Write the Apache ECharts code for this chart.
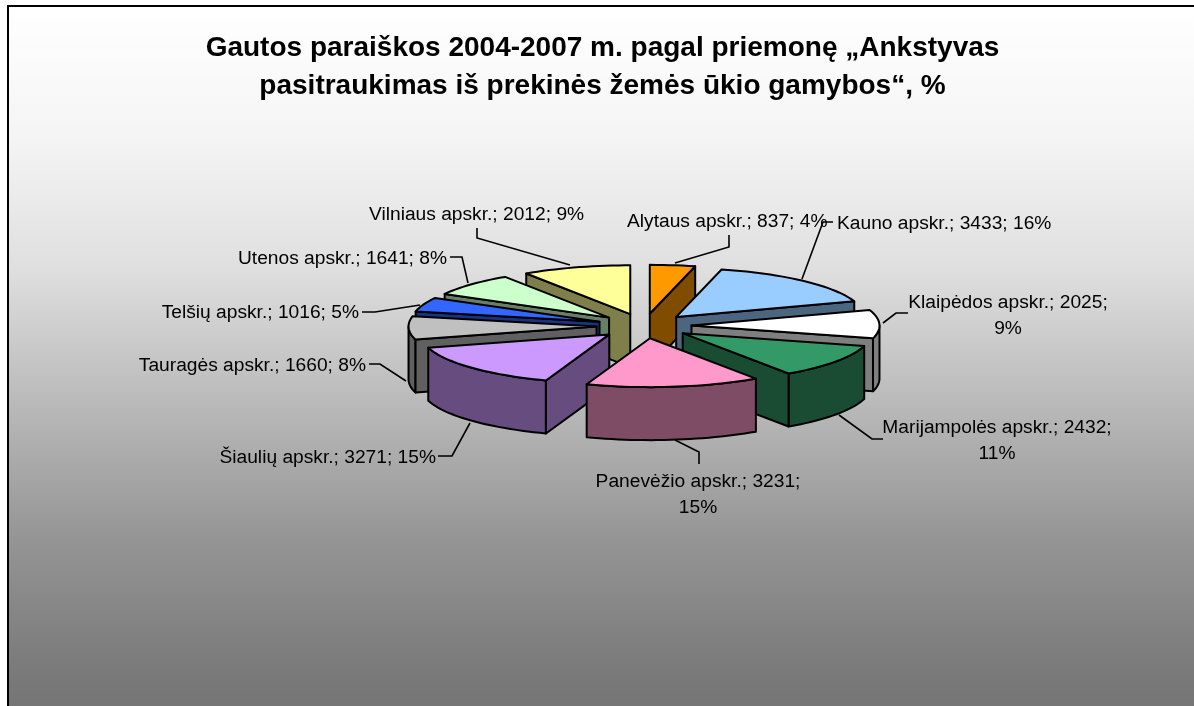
<!DOCTYPE html>
<html>
<head>
<meta charset="utf-8">
<title>Gautos paraiškos</title>
<style>
	html, body { margin: 0; padding: 0; background: #fff; }
	#main { width: 1194px; height: 706px; }
</style>
<script src="https://cdn.jsdelivr.net/npm/echarts@6/dist/echarts.min.js"></script>
</head>
<body>
<div id="main"></div>
<script>
	var titleText = 'Gautos paraiškos 2004-2007 m. pagal priemonę „Ankstyvas\npasitraukimas iš prekinės žemės ūkio gamybos“, %';
	var categories = ['Alytaus apskr.', 'Kauno apskr.', 'Klaipėdos apskr.', 'Marijampolės apskr.', 'Panevėžio apskr.', 'Šiaulių apskr.', 'Tauragės apskr.', 'Telšių apskr.', 'Utenos apskr.', 'Vilniaus apskr.'];
	var values = [837, 3433, 2025, 2432, 3231, 3271, 1660, 1016, 1641, 2012];
	var percents = [4, 16, 9, 11, 15, 15, 8, 5, 8, 9];
	var topColors = ['#ff9900', '#99ccff', '#ffffff', '#339966', '#ff99cc', '#cc99ff', '#c0c0c0', '#3366ff', '#ccffcc', '#ffff99'];
	var wallColors = ['#7f4c00', '#4c667f', '#7f7f7f', '#194c33', '#7f4c66', '#664c7f', '#606060', '#193380', '#667f66', '#7f7f4c'];

	// 3d pie shape, ECharts has no 3d pie without gl
	var cx = 644, cy = 326, radius = 188, squash = 0.26, depth = 53, explode = 47.5;

	// label place: [x, y, align], line break where the original wraps
	var labelPlaces = [
		[627, 222, 'left'], [837, 224, 'left'], [1008, 316, 'center'], [997, 441, 'center'], [698, 495, 'center'],
		[436, 458, 'right'], [366, 366, 'right'], [359, 313, 'right'], [447, 259, 'right'], [369, 215, 'left']
	];
	var labelBreaks = [false, false, true, true, true, false, false, false, false, false];
	var leaderLines = [
		[[729, 235], [729, 247], [675, 263]],
		[[833, 222], [823, 222], [802, 279]],
		[[908, 313], [896, 313], [883, 323]],
		[[883, 439], [872, 439], [839, 415]],
		[[699, 464], [699, 452], [675, 440]],
		[[438, 456], [452, 456], [470, 423]],
		[[369, 364], [380, 364], [406, 381]],
		[[362, 312], [375, 312], [420, 305]],
		[[450, 257], [462, 257], [468, 283]],
		[[477, 228], [477, 238], [570, 265]]
	];

	var total = values.reduce(function(a, b) { return a + b; }, 0);
	var startDeg = [];
	values.reduce(function(sum, v, i) {
		startDeg[i] = sum / total * 360;
		return sum + v;
	}, 0);

	function rad(deg) {
		return deg * Math.PI / 180;
	}

	// degrees run clockwise from 12 o'clock
	function project(apex, deg, r, drop) {
		return [apex[0] + r * Math.sin(rad(deg)), apex[1] - r * squash * Math.cos(rad(deg)) + drop];
	}

	function arcPoints(apex, a0, a1, drop) {
		var pts = [];
		for (var d = a0; d < a1; d += 2) {
			pts.push(project(apex, d, radius, drop));
		}
		pts.push(project(apex, a1, radius, drop));
		return pts;
	}

	function poly(points, fill) {
		return {
			type: 'polygon',
			shape: { points: points },
			style: { fill: fill, stroke: '#000', lineWidth: 2, lineJoin: 'round' }
		};
	}

	function cutWall(apex, deg, fill) {
		return poly([
			project(apex, deg, 0, 0), project(apex, deg, radius, 0),
			project(apex, deg, radius, depth), project(apex, deg, 0, depth)
		], fill);
	}

	function renderSlice(params, api) {
		var i = api.value(1);
		var a0 = startDeg[i];
		var a1 = a0 + api.value(0) / total * 360;
		var mid = (a0 + a1) / 2;
		var apex = [cx + explode * Math.sin(rad(mid)), cy - explode * squash * Math.cos(rad(mid))];
		var children = [];

		// outer side, only the part turned to the viewer
		var from = Math.max(a0, 90), to = Math.min(a1, 270);
		if (from < to) {
			children.push(poly(arcPoints(apex, from, to, 0).concat(arcPoints(apex, from, to, depth).reverse()), wallColors[i]));
		}
		// cut sides
		if (Math.sin(rad(a0)) < 0) {
			children.push(cutWall(apex, a0, wallColors[i]));
		}
		if (Math.sin(rad(a1)) > 0.001) {
			children.push(cutWall(apex, a1, wallColors[i]));
		}
		children.push(poly([apex].concat(arcPoints(apex, a0, a1, 0)), topColors[i]));

		return { type: 'group', children: children };
	}

	function labelText(i) {
		var tail = percents[i] + '%';
		return categories[i] + '; ' + values[i] + ';' + (labelBreaks[i] ? '\n' : ' ') + tail;
	}

	function renderLabel(params, api) {
		var i = api.value(1);
		var place = labelPlaces[i];
		return {
			type: 'group',
			children: [{
				type: 'polyline',
				shape: { points: leaderLines[i] },
				style: { fill: null, stroke: '#000', lineWidth: 1.6 }
			}, {
				type: 'text',
				x: place[0],
				y: place[1],
				style: {
					text: labelText(i),
					fill: '#000',
					font: '19.2px "Liberation Sans", Arial, sans-serif',
					lineHeight: 26,
					align: place[2],
					verticalAlign: 'middle'
				}
			}]
		};
	}

	// back slices first
	var rows = values.map(function(v, i) {
		return { name: categories[i], value: [v, i] };
	}).sort(function(p, q) {
		return midKey(q.value[1]) - midKey(p.value[1]);
	});

	function midKey(i) {
		return Math.cos(rad(startDeg[i] + values[i] / total * 180));
	}

	var myChart = echarts.init(document.getElementById('main'));
	myChart.setOption({
		animation: false,
		backgroundColor: '#fff',
		title: {
			text: titleText,
			left: 597.5,
			top: 24,
			textAlign: 'center',
			textStyle: {
				fontFamily: '"Liberation Sans", Arial, sans-serif',
				fontSize: 28,
				fontWeight: 'bold',
				color: '#000',
				lineHeight: 38
			}
		},
		graphic: [{
			type: 'rect',
			z: -1,
			silent: true,
			shape: { x: 8, y: 6, width: 1240, height: 760 },
			style: {
				stroke: '#000',
				lineWidth: 2,
				fill: new echarts.graphic.LinearGradient(0, 0, 0, 1, [
					{ offset: 0, color: '#ffffff' },
					{ offset: 0.17, color: '#f5f5f5' },
					{ offset: 0.347, color: '#dfdfdf' },
					{ offset: 0.525, color: '#b9b9b9' },
					{ offset: 0.7, color: '#959595' },
					{ offset: 0.88, color: '#797979' },
					{ offset: 1, color: '#6f6f6f' }
				])
			}
		}],
		series: [{
			type: 'custom',
			coordinateSystem: 'none',
			silent: true,
			z: 2,
			renderItem: renderLabel,
			data: rows
		}, {
			type: 'custom',
			coordinateSystem: 'none',
			silent: true,
			z: 3,
			renderItem: renderSlice,
			data: rows
		}]
	});
</script>
</body>
</html>
